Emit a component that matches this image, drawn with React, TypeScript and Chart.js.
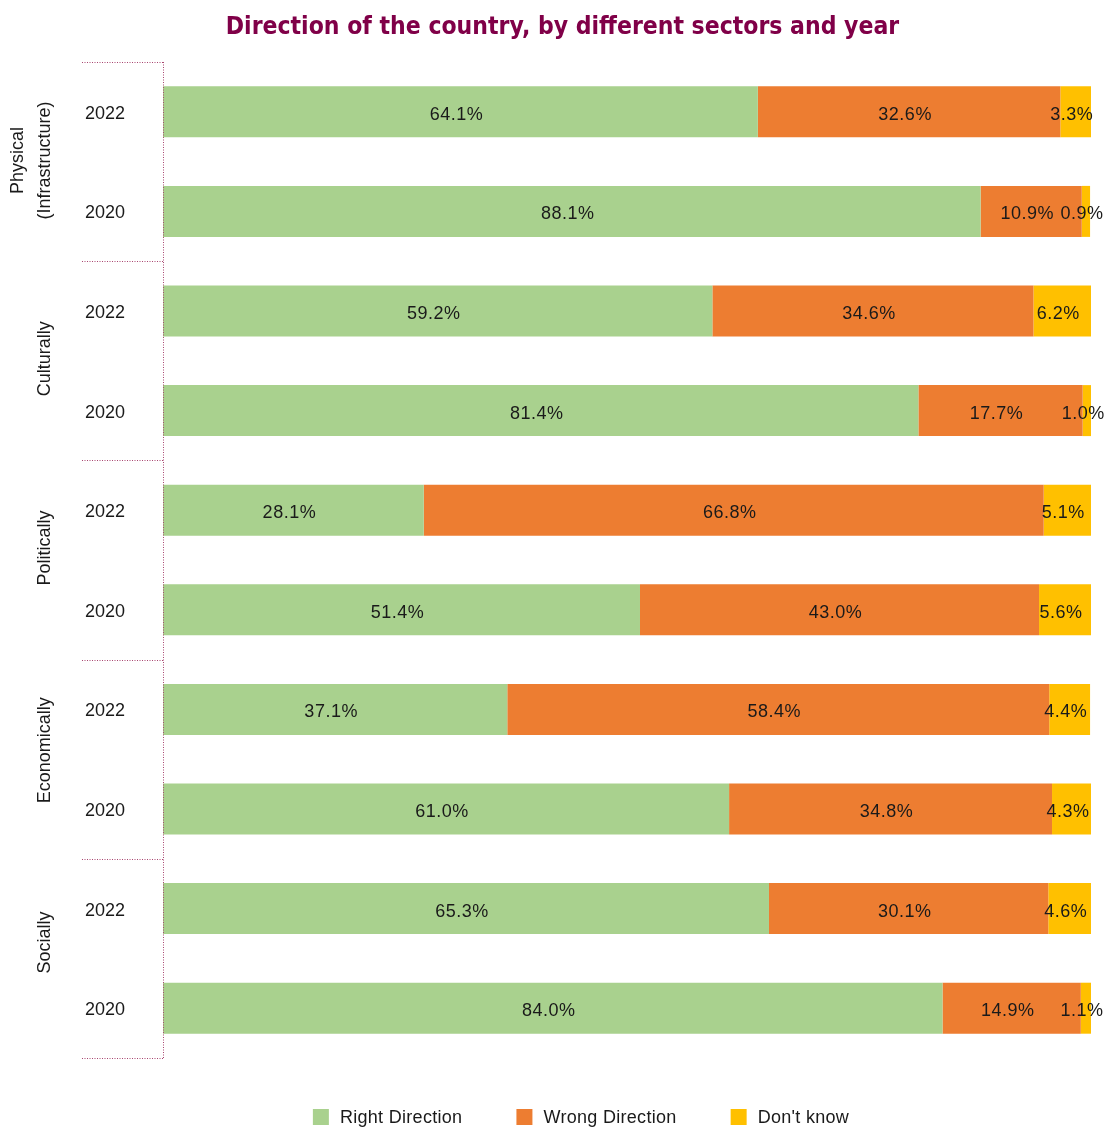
import React, { useEffect, useRef } from "react";
import { Chart, registerables } from "chart.js";

Chart.register(...registerables);

const yearLabels = ["2022", "2020", "2022", "2020", "2022", "2020", "2022", "2020", "2022", "2020"];
const groupLabels = [["Physical", "(Infrastructure)"], ["Culturally"], ["Politically"], ["Economically"], ["Socially"]];
const seriesNames = ["Right Direction", "Wrong Direction", "Don't know"];
const rightDirection = [64.1, 88.1, 59.2, 81.4, 28.1, 51.4, 37.1, 61.0, 65.3, 84.0];
const wrongDirection = [32.6, 10.9, 34.6, 17.7, 66.8, 43.0, 58.4, 34.8, 30.1, 14.9];
const dontKnow = [3.3, 0.9, 6.2, 1.0, 5.1, 5.6, 4.4, 4.3, 4.6, 1.1];
const seriesColors = ["#a9d18e", "#ed7d31", "#ffc000"];

// style: vertical nudge of each rotated group label (px)
const groupLabelShift = [-1, -2, -12, -9, -16];

const FONT = "'Liberation Sans', Arial, sans-serif";
const TITLE_FONT = "'Liberation Sans Narrow', 'DejaVu Sans Condensed', Roboto, sans-serif";
const SEP_COLOR = "#a8456f";

const valueLabelPlugin = {
  id: "valueLabels",
  afterDatasetsDraw(chart: any) {
    const ctx = chart.ctx;
    ctx.save();
    ctx.font = `18px ${FONT}`;
    ctx.fillStyle = "#1a1a1a";
    ctx.textAlign = "center";
    ctx.textBaseline = "middle";
    try { (ctx as any).letterSpacing = "0.5px"; } catch (e) {}
    chart.data.datasets.forEach((ds: any, di: number) => {
      const meta = chart.getDatasetMeta(di);
      meta.data.forEach((el: any, i: number) => {
        const v = ds.data[i];
        const cx = (el.x + el.base) / 2 - 4;
        ctx.fillText(`${v.toFixed(1)}%`, cx, el.y + 3);
      });
    });
    ctx.restore();
  },
};

const groupPlugin = {
  id: "groups",
  afterDraw(chart: any) {
    const ctx = chart.ctx;
    const y = chart.scales.y;
    const area = chart.chartArea;
    const step = (y.getPixelForValue(1) - y.getPixelForValue(0));
    ctx.save();
    ctx.strokeStyle = SEP_COLOR;
    ctx.lineWidth = 1;
    ctx.setLineDash([1, 1.5]);
    ctx.beginPath();
    ctx.moveTo(area.left + 0.5, area.top);
    ctx.lineTo(area.left + 0.5, area.bottom);
    ctx.stroke();
    for (let g = 0; g <= groupLabels.length; g++) {
      const py = Math.round(y.getPixelForValue(g * 2) - step / 2) + 0.5;
      ctx.beginPath();
      ctx.moveTo(82, py);
      ctx.lineTo(area.left, py);
      ctx.stroke();
    }
    ctx.setLineDash([]);
    ctx.fillStyle = "#1a1a1a";
    ctx.font = `18px ${FONT}`;
    ctx.textAlign = "center";
    ctx.textBaseline = "middle";
    groupLabels.forEach((lines, g) => {
      const cy = (y.getPixelForValue(g * 2) + y.getPixelForValue(g * 2 + 1)) / 2 + groupLabelShift[g];
      const lh = 27;
      lines.forEach((line, li) => {
        const cx = 45 - (lines.length - 1 - li) * lh;
        ctx.save();
        ctx.translate(cx, cy);
        ctx.rotate(-Math.PI / 2);
        ctx.fillText(line, 0, 0);
        ctx.restore();
      });
    });
    ctx.restore();
  },
};

const legendPlugin = {
  id: "customLegend",
  afterDraw(chart: any) {
    const ctx = chart.ctx;
    ctx.save();
    ctx.font = `18px ${FONT}`;
    try { (ctx as any).letterSpacing = "0.3px"; } catch (e) {}
    ctx.textBaseline = "middle";
    ctx.textAlign = "left";
    const box = 16;
    const gapText = 11;
    const gapItem = 54;
    const widths = seriesNames.map((n) => box + gapText + ctx.measureText(n).width);
    const total = widths.reduce((a, b) => a + b, 0) + gapItem * (widths.length - 1);
    const center = (chart.chartArea.left + chart.chartArea.right) / 2 - 46;
    let x = center - total / 2;
    const cy = 1117;
    seriesNames.forEach((n, i) => {
      ctx.fillStyle = seriesColors[i];
      ctx.fillRect(x, cy - box / 2, box, box);
      ctx.fillStyle = "#1a1a1a";
      ctx.fillText(n, x + box + gapText, cy + 1);
      x += widths[i] + gapItem;
    });
    ctx.restore();
  },
};

export default function App() {
  const ref = useRef<HTMLCanvasElement | null>(null);
  useEffect(() => {
    if (!ref.current) return;
    const values = [rightDirection, wrongDirection, dontKnow];
    const chart = new Chart(ref.current, {
      type: "bar",
      data: {
        labels: yearLabels,
        datasets: seriesNames.map((name, i) => ({
          label: name,
          data: values[i],
          backgroundColor: seriesColors[i],
          borderWidth: 0,
          barPercentage: 1,
          categoryPercentage: 0.512,
        })),
      },
      options: {
        indexAxis: "y",
        animation: false,
        responsive: false,
        devicePixelRatio: 1,
        layout: { padding: { left: 34, right: 16, top: 0, bottom: 70 } },
        scales: {
          x: { stacked: true, display: false, min: 0, max: 100 },
          y: {
            stacked: true,
            grid: { display: false },
            border: { display: false },
            ticks: { padding: 30, labelOffset: 2, color: "#1a1a1a", font: { size: 18, family: FONT } },
            afterFit: (s: any) => { s.width = 129; },
          },
        },
        plugins: {
          title: {
            display: true,
            text: "Direction of the country, by different sectors and year",
            color: "#800048",
            font: { size: 24.5, weight: "bold", family: TITLE_FONT },
            padding: { top: 12.9, bottom: 19.7 },
          },
          legend: { display: false },
          tooltip: { enabled: false },
        },
      } as any,
      plugins: [valueLabelPlugin, groupPlugin, legendPlugin],
    });
    return () => chart.destroy();
  }, []);
  return (
    <div style={{ position: "absolute", left: 0, top: 0, width: 1107, height: 1128, background: "#fff" }}>
      <canvas ref={ref} width={1107} height={1128} />
    </div>
  );
}
